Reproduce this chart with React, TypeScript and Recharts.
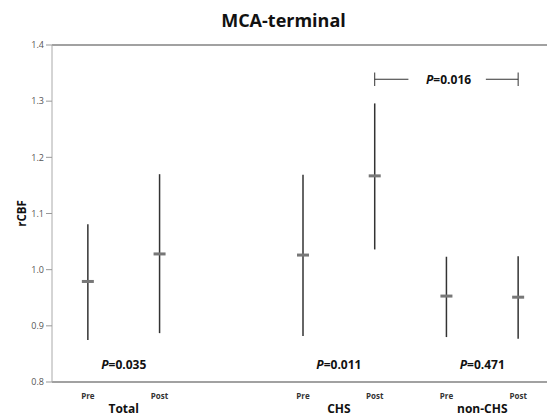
import React from 'react';
import {
  ComposedChart, Scatter, ErrorBar, XAxis, YAxis, ReferenceLine, ReferenceDot,
} from 'recharts';

// positions on x (slot 2 is the empty gap between Total and CHS)
const positions = [0, 1, 3, 4, 5, 6];
const tickLabels = ['Pre', 'Post', 'Pre', 'Post', 'Pre', 'Post'];
const means = [0.979, 1.028, 1.026, 1.167, 0.953, 0.951];
const lows = [0.875, 0.887, 0.882, 1.036, 0.880, 0.877];
const highs = [1.081, 1.170, 1.169, 1.296, 1.023, 1.024];

const groupPositions = [0.5, 3.5, 5.5];
const groupLabels = ['Total', 'CHS', 'non-CHS'];

const pPositions = [0.5, 3.5, 5.5];
const pValues = ['0.035', '0.011', '0.471'];
const pLevel = 0.832;

const bracketFrom = 4;
const bracketTo = 6;
const bracketLevel = 1.339;
const bracketGapFrom = 4.47;
const bracketGapTo = 5.55;
const bracketTick = 0.012;
const bracketP = '0.016';

const yTicks = [0.8, 0.9, 1.0, 1.1, 1.2, 1.3, 1.4];

const data = positions.map((x, i) => ({
  x,
  mean: means[i],
  err: [means[i] - lows[i], highs[i] - means[i]],
}));

const FONT = '"Open Sans", sans-serif';

const MeanMark = (props: any) => {
  const { cx, cy } = props;
  if (cx == null || cy == null) return null;
  return <rect x={cx - 6} y={cy - 1.5} width={12} height={3} fill="#777" />;
};

const PLabel = (props: any) => {
  const { viewBox, text } = props;
  const cx = viewBox.x + (viewBox.width || 0) / 2;
  const cy = viewBox.y + (viewBox.height || 0) / 2;
  return (
    <text x={cx} y={cy} textAnchor="middle" dominantBaseline="central"
      fontFamily={FONT} fontSize={12} fontWeight={700} fill="#111">
      <tspan fontStyle="italic">P</tspan>
      <tspan>={text}</tspan>
    </text>
  );
};

const YLabel = (props: any) => {
  const { viewBox } = props;
  const cy = viewBox.y + viewBox.height / 2;
  const x = 21;
  return (
    <text x={x} y={cy} textAnchor="middle" dominantBaseline="central"
      transform={`rotate(-90, ${x}, ${cy})`}
      fontFamily={FONT} fontSize={11.5} fontWeight={700} fill="#111">rCBF</text>
  );
};

export default function App() {
  return (
    <div style={{ position: 'absolute', left: 0, top: 0, width: 547, height: 418, overflow: 'hidden', background: '#fff' }}>
      <div style={{
        position: 'absolute', left: 0, top: 8, width: 567, textAlign: 'center',
        fontFamily: FONT, fontWeight: 700, fontSize: 18, color: '#111', lineHeight: '24px',
      }}>MCA-terminal</div>
      <ComposedChart width={556} height={418} data={data}
        margin={{ top: 45, right: 2, left: 0, bottom: 0 }}>
        <XAxis dataKey="x" type="number" domain={[-0.5, 6.5]} ticks={positions}
          allowDataOverflow height={14}
          tickFormatter={(v: number) => tickLabels[positions.indexOf(v)] ?? ''}
          axisLine={{ stroke: '#444', strokeWidth: 1.2 }} tickLine={false} tickMargin={5}
          tick={{ fontFamily: FONT, fontSize: 8, fontWeight: 700, fill: '#333' }} />
        <XAxis xAxisId="grp" dataKey="x" type="number" domain={[-0.5, 6.5]} ticks={groupPositions}
          allowDataOverflow height={22}
          tickFormatter={(v: number) => groupLabels[groupPositions.indexOf(v)] ?? ''}
          axisLine={false} tickLine={false} tickMargin={8} tickSize={0}
          tick={{ fontFamily: FONT, fontSize: 12, fontWeight: 700, fill: '#111' }} />
        <YAxis type="number" domain={[0.8, 1.4]} ticks={yTicks} allowDataOverflow width={52}
          tickFormatter={(v: number) => v.toFixed(1)}
          axisLine={{ stroke: '#aaa' }} tickLine={{ stroke: '#999' }} tickSize={6} tickMargin={2}
          tick={{ fontFamily: FONT, fontSize: 9, fill: '#555' }}
          label={<YLabel />} />
        <ReferenceLine y={1.4} stroke="#444" strokeWidth={1.2} />
        <Scatter dataKey="mean" shape={<MeanMark />} isAnimationActive={false}>
          <ErrorBar dataKey="err" direction="y" width={0} stroke="#333" strokeWidth={1.5} isAnimationActive={false} />
        </Scatter>
        <ReferenceLine segment={[{ x: bracketFrom, y: bracketLevel }, { x: bracketGapFrom, y: bracketLevel }]} stroke="#333" />
        <ReferenceLine segment={[{ x: bracketGapTo, y: bracketLevel }, { x: bracketTo, y: bracketLevel }]} stroke="#333" />
        <ReferenceLine segment={[{ x: bracketFrom, y: bracketLevel - bracketTick }, { x: bracketFrom, y: bracketLevel + bracketTick }]} stroke="#333" />
        <ReferenceLine segment={[{ x: bracketTo, y: bracketLevel - bracketTick }, { x: bracketTo, y: bracketLevel + bracketTick }]} stroke="#333" />
        <ReferenceDot x={(bracketFrom + bracketTo) / 2 + 0.03} y={bracketLevel} r={1} fill="none" stroke="none"
          label={<PLabel text={bracketP} />} />
        {pPositions.map((px, i) => (
          <ReferenceDot key={i} x={px} y={pLevel} r={1} fill="none" stroke="none"
            label={<PLabel text={pValues[i]} />} />
        ))}
      </ComposedChart>
    </div>
  );
}
